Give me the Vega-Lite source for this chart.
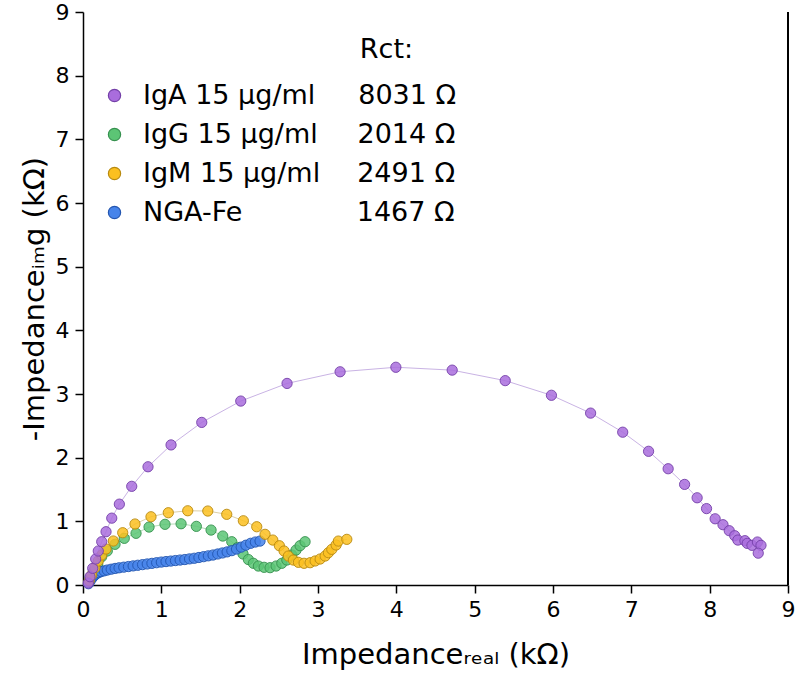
{
  "$schema": "https://vega.github.io/schema/vega-lite/v6.json",
  "width": 705,
  "height": 573,
  "autosize": "none",
  "padding": {"left": 83, "top": 12, "right": 8, "bottom": 103},
  "background": "white",
  "config": {
    "view": {"stroke": null},
    "font": "DejaVu Sans",
    "axis": {
      "grid": false,
      "domainColor": "black",
      "domainWidth": 1.5,
      "tickColor": "black",
      "tickWidth": 1.5,
      "labelFont": "DejaVu Sans",
      "labelFontSize": 22,
      "labelColor": "black",
      "titleFont": "DejaVu Sans",
      "titleFontSize": 29,
      "titleFontWeight": "normal",
      "titleColor": "black"
    },
    "legend": {
      "labelFont": "DejaVu Sans",
      "titleFont": "DejaVu Sans"
    }
  },
  "datasets": {
    "eis": [
      {"s": "IgG 15 µg/ml", "x": 0.089, "y": 0.105},
      {"s": "IgG 15 µg/ml", "x": 0.132, "y": 0.209},
      {"s": "IgG 15 µg/ml", "x": 0.188, "y": 0.33},
      {"s": "IgG 15 µg/ml", "x": 0.239, "y": 0.444},
      {"s": "IgG 15 µg/ml", "x": 0.31, "y": 0.534},
      {"s": "IgG 15 µg/ml", "x": 0.409, "y": 0.639},
      {"s": "IgG 15 µg/ml", "x": 0.527, "y": 0.733},
      {"s": "IgG 15 µg/ml", "x": 0.677, "y": 0.812},
      {"s": "IgG 15 µg/ml", "x": 0.843, "y": 0.91},
      {"s": "IgG 15 µg/ml", "x": 1.047, "y": 0.953},
      {"s": "IgG 15 µg/ml", "x": 1.252, "y": 0.962},
      {"s": "IgG 15 µg/ml", "x": 1.447, "y": 0.921},
      {"s": "IgG 15 µg/ml", "x": 1.635, "y": 0.863},
      {"s": "IgG 15 µg/ml", "x": 1.784, "y": 0.769},
      {"s": "IgG 15 µg/ml", "x": 1.899, "y": 0.68},
      {"s": "IgG 15 µg/ml", "x": 1.973, "y": 0.589},
      {"s": "IgG 15 µg/ml", "x": 2.043, "y": 0.487},
      {"s": "IgG 15 µg/ml", "x": 2.111, "y": 0.4},
      {"s": "IgG 15 µg/ml", "x": 2.175, "y": 0.341},
      {"s": "IgG 15 µg/ml", "x": 2.239, "y": 0.298},
      {"s": "IgG 15 µg/ml", "x": 2.312, "y": 0.278},
      {"s": "IgG 15 µg/ml", "x": 2.388, "y": 0.272},
      {"s": "IgG 15 µg/ml", "x": 2.465, "y": 0.298},
      {"s": "IgG 15 µg/ml", "x": 2.538, "y": 0.341},
      {"s": "IgG 15 µg/ml", "x": 2.602, "y": 0.392},
      {"s": "IgG 15 µg/ml", "x": 2.665, "y": 0.471},
      {"s": "IgG 15 µg/ml", "x": 2.72, "y": 0.549},
      {"s": "IgG 15 µg/ml", "x": 2.771, "y": 0.617},
      {"s": "IgG 15 µg/ml", "x": 2.835, "y": 0.68},

      {"s": "NGA-Fe", "x": 0.07, "y": 0.02},
      {"s": "NGA-Fe", "x": 0.09, "y": 0.06},
      {"s": "NGA-Fe", "x": 0.11, "y": 0.1},
      {"s": "NGA-Fe", "x": 0.13, "y": 0.13},
      {"s": "NGA-Fe", "x": 0.15, "y": 0.155},
      {"s": "NGA-Fe", "x": 0.17, "y": 0.175},
      {"s": "NGA-Fe", "x": 0.2, "y": 0.195},
      {"s": "NGA-Fe", "x": 0.23, "y": 0.21},
      {"s": "NGA-Fe", "x": 0.27, "y": 0.222},
      {"s": "NGA-Fe", "x": 0.31, "y": 0.235},
      {"s": "NGA-Fe", "x": 0.36, "y": 0.248},
      {"s": "NGA-Fe", "x": 0.41, "y": 0.26},
      {"s": "NGA-Fe", "x": 0.46, "y": 0.27},
      {"s": "NGA-Fe", "x": 0.52, "y": 0.28},
      {"s": "NGA-Fe", "x": 0.58, "y": 0.29},
      {"s": "NGA-Fe", "x": 0.64, "y": 0.3},
      {"s": "NGA-Fe", "x": 0.7, "y": 0.31},
      {"s": "NGA-Fe", "x": 0.76, "y": 0.32},
      {"s": "NGA-Fe", "x": 0.82, "y": 0.33},
      {"s": "NGA-Fe", "x": 0.88, "y": 0.34},
      {"s": "NGA-Fe", "x": 0.94, "y": 0.35},
      {"s": "NGA-Fe", "x": 1.0, "y": 0.36},
      {"s": "NGA-Fe", "x": 1.06, "y": 0.368},
      {"s": "NGA-Fe", "x": 1.12, "y": 0.376},
      {"s": "NGA-Fe", "x": 1.18, "y": 0.384},
      {"s": "NGA-Fe", "x": 1.24, "y": 0.392},
      {"s": "NGA-Fe", "x": 1.3, "y": 0.4},
      {"s": "NGA-Fe", "x": 1.36, "y": 0.41},
      {"s": "NGA-Fe", "x": 1.42, "y": 0.42},
      {"s": "NGA-Fe", "x": 1.48, "y": 0.432},
      {"s": "NGA-Fe", "x": 1.54, "y": 0.445},
      {"s": "NGA-Fe", "x": 1.6, "y": 0.458},
      {"s": "NGA-Fe", "x": 1.66, "y": 0.471},
      {"s": "NGA-Fe", "x": 1.72, "y": 0.487},
      {"s": "NGA-Fe", "x": 1.78, "y": 0.503},
      {"s": "NGA-Fe", "x": 1.84, "y": 0.52},
      {"s": "NGA-Fe", "x": 1.9, "y": 0.54},
      {"s": "NGA-Fe", "x": 1.96, "y": 0.565},
      {"s": "NGA-Fe", "x": 2.02, "y": 0.595},
      {"s": "NGA-Fe", "x": 2.08, "y": 0.625},
      {"s": "NGA-Fe", "x": 2.14, "y": 0.655},
      {"s": "NGA-Fe", "x": 2.2, "y": 0.675},
      {"s": "NGA-Fe", "x": 2.26, "y": 0.69},

      {"s": "IgM 15 µg/ml", "x": 0.08, "y": 0.067},
      {"s": "IgM 15 µg/ml", "x": 0.111, "y": 0.157},
      {"s": "IgM 15 µg/ml", "x": 0.153, "y": 0.272},
      {"s": "IgM 15 µg/ml", "x": 0.195, "y": 0.377},
      {"s": "IgM 15 µg/ml", "x": 0.239, "y": 0.471},
      {"s": "IgM 15 µg/ml", "x": 0.294, "y": 0.565},
      {"s": "IgM 15 µg/ml", "x": 0.387, "y": 0.691},
      {"s": "IgM 15 µg/ml", "x": 0.507, "y": 0.821},
      {"s": "IgM 15 µg/ml", "x": 0.664, "y": 0.958},
      {"s": "IgM 15 µg/ml", "x": 0.868, "y": 1.072},
      {"s": "IgM 15 µg/ml", "x": 1.089, "y": 1.135},
      {"s": "IgM 15 µg/ml", "x": 1.337, "y": 1.166},
      {"s": "IgM 15 µg/ml", "x": 1.593, "y": 1.162},
      {"s": "IgM 15 µg/ml", "x": 1.835, "y": 1.11},
      {"s": "IgM 15 µg/ml", "x": 2.047, "y": 1.009},
      {"s": "IgM 15 µg/ml", "x": 2.218, "y": 0.915},
      {"s": "IgM 15 µg/ml", "x": 2.324, "y": 0.796},
      {"s": "IgM 15 µg/ml", "x": 2.423, "y": 0.706},
      {"s": "IgM 15 µg/ml", "x": 2.507, "y": 0.617},
      {"s": "IgM 15 µg/ml", "x": 2.567, "y": 0.534},
      {"s": "IgM 15 µg/ml", "x": 2.622, "y": 0.455},
      {"s": "IgM 15 µg/ml", "x": 2.686, "y": 0.392},
      {"s": "IgM 15 µg/ml", "x": 2.75, "y": 0.356},
      {"s": "IgM 15 µg/ml", "x": 2.822, "y": 0.341},
      {"s": "IgM 15 µg/ml", "x": 2.899, "y": 0.35},
      {"s": "IgM 15 µg/ml", "x": 2.963, "y": 0.377},
      {"s": "IgM 15 µg/ml", "x": 3.027, "y": 0.408},
      {"s": "IgM 15 µg/ml", "x": 3.091, "y": 0.455},
      {"s": "IgM 15 µg/ml", "x": 3.133, "y": 0.507},
      {"s": "IgM 15 µg/ml", "x": 3.176, "y": 0.56},
      {"s": "IgM 15 µg/ml", "x": 3.231, "y": 0.628},
      {"s": "IgM 15 µg/ml", "x": 3.26, "y": 0.69},
      {"s": "IgM 15 µg/ml", "x": 3.368, "y": 0.717},

      {"s": "IgA 15 µg/ml", "x": 0.068, "y": 0.03},
      {"s": "IgA 15 µg/ml", "x": 0.089, "y": 0.13},
      {"s": "IgA 15 µg/ml", "x": 0.124, "y": 0.262},
      {"s": "IgA 15 µg/ml", "x": 0.162, "y": 0.408},
      {"s": "IgA 15 µg/ml", "x": 0.195, "y": 0.534},
      {"s": "IgA 15 µg/ml", "x": 0.239, "y": 0.68},
      {"s": "IgA 15 µg/ml", "x": 0.294, "y": 0.837},
      {"s": "IgA 15 µg/ml", "x": 0.367, "y": 1.05},
      {"s": "IgA 15 µg/ml", "x": 0.464, "y": 1.27},
      {"s": "IgA 15 µg/ml", "x": 0.622, "y": 1.55},
      {"s": "IgA 15 µg/ml", "x": 0.83, "y": 1.857},
      {"s": "IgA 15 µg/ml", "x": 1.124, "y": 2.2},
      {"s": "IgA 15 µg/ml", "x": 1.516, "y": 2.554},
      {"s": "IgA 15 µg/ml", "x": 2.014, "y": 2.889},
      {"s": "IgA 15 µg/ml", "x": 2.605, "y": 3.166},
      {"s": "IgA 15 µg/ml", "x": 3.282, "y": 3.349},
      {"s": "IgA 15 µg/ml", "x": 3.994, "y": 3.42},
      {"s": "IgA 15 µg/ml", "x": 4.713, "y": 3.375},
      {"s": "IgA 15 µg/ml", "x": 5.39, "y": 3.21},
      {"s": "IgA 15 µg/ml", "x": 5.98, "y": 2.98},
      {"s": "IgA 15 µg/ml", "x": 6.48, "y": 2.7},
      {"s": "IgA 15 µg/ml", "x": 6.89, "y": 2.4},
      {"s": "IgA 15 µg/ml", "x": 7.22, "y": 2.1},
      {"s": "IgA 15 µg/ml", "x": 7.47, "y": 1.826},
      {"s": "IgA 15 µg/ml", "x": 7.68, "y": 1.58},
      {"s": "IgA 15 µg/ml", "x": 7.84, "y": 1.37},
      {"s": "IgA 15 µg/ml", "x": 7.96, "y": 1.2},
      {"s": "IgA 15 µg/ml", "x": 8.07, "y": 1.04},
      {"s": "IgA 15 µg/ml", "x": 8.17, "y": 0.947},
      {"s": "IgA 15 µg/ml", "x": 8.25, "y": 0.853},
      {"s": "IgA 15 µg/ml", "x": 8.32, "y": 0.774},
      {"s": "IgA 15 µg/ml", "x": 8.36, "y": 0.706},
      {"s": "IgA 15 µg/ml", "x": 8.45, "y": 0.696},
      {"s": "IgA 15 µg/ml", "x": 8.48, "y": 0.654},
      {"s": "IgA 15 µg/ml", "x": 8.54, "y": 0.623},
      {"s": "IgA 15 µg/ml", "x": 8.61, "y": 0.675},
      {"s": "IgA 15 µg/ml", "x": 8.655, "y": 0.623},
      {"s": "IgA 15 µg/ml", "x": 8.62, "y": 0.5}
    ]
  },
  "data": {"name": "eis"},
  "encoding": {
    "x": {
      "field": "x",
      "type": "quantitative",
      "scale": {"domain": [0, 9], "nice": false, "zero": false},
      "axis": {
        "title": "Impedanceᵣₑₐₗ (kΩ)",
        "values": [0, 0.5, 1, 1.5, 2, 2.5, 3, 3.5, 4, 4.5, 5, 5.5, 6, 6.5, 7, 7.5, 8, 8.5, 9],
        "format": "d",
        "labelExpr": "datum.value % 1 === 0 ? datum.label : ''",
        "tickSize": {"condition": {"test": "datum.value % 1 === 0", "value": 8}, "value": 4},
        "labelPadding": 6,
        "labelFlush": false,
        "labelOverlap": false,
        "titlePadding": 20
      }
    },
    "y": {
      "field": "y",
      "type": "quantitative",
      "scale": {"domain": [0, 9], "nice": false, "zero": false},
      "axis": {
        "title": "-Impedanceᵢₘg (kΩ)",
        "values": [0, 0.5, 1, 1.5, 2, 2.5, 3, 3.5, 4, 4.5, 5, 5.5, 6, 6.5, 7, 7.5, 8, 8.5, 9],
        "format": "d",
        "labelExpr": "datum.value % 1 === 0 ? datum.label : ''",
        "tickSize": {"condition": {"test": "datum.value % 1 === 0", "value": 8}, "value": 4},
        "labelPadding": 6,
        "labelFlush": false,
        "labelOverlap": false,
        "titlePadding": 6
      }
    }
  },
  "layer": [
    {
      "mark": {"type": "line", "strokeWidth": 1},
      "encoding": {
        "detail": {"field": "s", "type": "nominal"},
        "stroke": {
          "condition": [
            {"test": "datum.s === 'IgA 15 µg/ml'", "value": "#c9b3e4"},
            {"test": "datum.s === 'IgG 15 µg/ml'", "value": "#b5ddb9"},
            {"test": "datum.s === 'IgM 15 µg/ml'", "value": "#dccfa6"}
          ],
          "value": "#a9c3ee"
        },
        "order": {"value": null}
      }
    },
    {
      "mark": {"type": "point", "filled": true, "size": 105, "fillOpacity": 0.85, "strokeWidth": 1, "strokeOpacity": 0.9},
      "encoding": {
        "fill": {
          "field": "s",
          "type": "nominal",
          "scale": {
            "domain": ["IgA 15 µg/ml", "IgG 15 µg/ml", "IgM 15 µg/ml", "NGA-Fe"],
            "range": ["#a96ddd", "#5cc575", "#fbc020", "#4784ea"]
          },
          "legend": {
            "orient": "none",
            "legendX": 18,
            "legendY": 25,
            "padding": 0,
            "title": "Rct:\u00a0\u00a0\u00a0\u00a0\u00a0\u200b",
            "titleAnchor": "end",
            "titleFontSize": 27,
            "titleFontWeight": "normal",
            "titleColor": "black",
            "titlePadding": 18,
            "labelFontSize": 27,
            "labelColor": "black",
            "labelOffset": 15,
            "labelLimit": 0,
            "rowPadding": 11,
            "symbolSize": 150,
            "symbolStrokeWidth": 1.2,
            "labelExpr": "{'IgA 15 µg/ml': 'IgA 15 µg/ml\u00a0\u00a0\u00a0\u00a0\u00a08031 Ω', 'IgG 15 µg/ml': 'IgG 15 µg/ml\u00a0\u00a0\u00a0\u00a0\u20092014 Ω', 'IgM 15 µg/ml': 'IgM 15 µg/ml\u00a0\u00a0\u00a0\u00a0\u200a2491 Ω', 'NGA-Fe': 'NGA-Fe\u2007\u2007\u2007\u2007\u2007\u2007\u00a0\u200a1467 Ω'}[datum.label]"
          }
        },
        "stroke": {
          "field": "s",
          "type": "nominal",
          "scale": {
            "domain": ["IgA 15 µg/ml", "IgG 15 µg/ml", "IgM 15 µg/ml", "NGA-Fe"],
            "range": ["#7440a8", "#36914f", "#b88a10", "#2456b0"]
          },
          "legend": {
            "orient": "none",
            "legendX": 18,
            "legendY": 25,
            "padding": 0,
            "title": "Rct:\u00a0\u00a0\u00a0\u00a0\u00a0\u200b",
            "titleAnchor": "end",
            "titleFontSize": 27,
            "titleFontWeight": "normal",
            "titleColor": "black",
            "titlePadding": 18,
            "labelFontSize": 27,
            "labelColor": "black",
            "labelOffset": 15,
            "labelLimit": 0,
            "rowPadding": 11,
            "symbolSize": 150,
            "symbolStrokeWidth": 1.2,
            "labelExpr": "{'IgA 15 µg/ml': 'IgA 15 µg/ml\u00a0\u00a0\u00a0\u00a0\u00a08031 Ω', 'IgG 15 µg/ml': 'IgG 15 µg/ml\u00a0\u00a0\u00a0\u00a0\u20092014 Ω', 'IgM 15 µg/ml': 'IgM 15 µg/ml\u00a0\u00a0\u00a0\u00a0\u200a2491 Ω', 'NGA-Fe': 'NGA-Fe\u2007\u2007\u2007\u2007\u2007\u2007\u00a0\u200a1467 Ω'}[datum.label]"
          }
        }
      }
    },
    {
      "mark": {"type": "rule", "color": "black", "strokeWidth": 1.5},
      "encoding": {"x": {"datum": 9}, "y": null}
    }
  ]
}
